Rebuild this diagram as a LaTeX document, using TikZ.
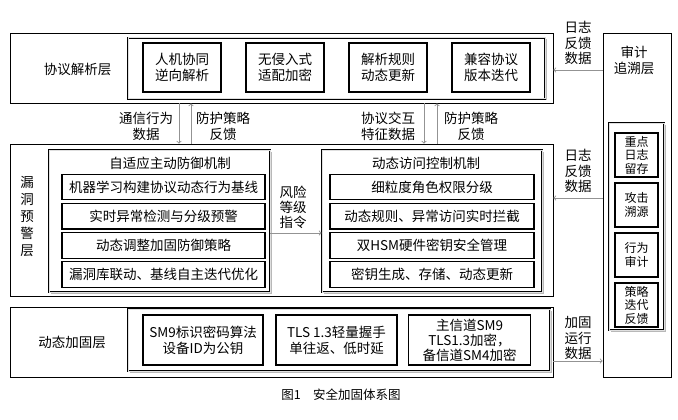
\documentclass[tikz,border=0pt]{standalone}
\usepackage{fontspec}
\setmainfont{Noto Sans CJK SC}
\usetikzlibrary{shapes,arrows,positioning,shadows}

\begin{document}
\begin{tikzpicture}[x=1pt, y=-1pt, auto,
  font=\fontsize{13.5}{16}\selectfont,
  layer/.style={rectangle, draw=black, line width=0.7pt, inner sep=0pt},
  group/.style={rectangle, draw=black, line width=0.8pt, double=gray!25, double distance=1pt, fill=white, inner sep=0pt, drop shadow={shadow xshift=1.5pt, shadow yshift=-1.5pt, fill=gray!70, opacity=0.8}},
  block/.style={rectangle, draw=black, line width=1.2pt, fill=white, inner sep=0pt, align=center, text centered},
  tag/.style={align=center, inner sep=0pt},
  arrow/.style={->, >=to, draw=gray!85, line width=0.9pt}]

  \useasboundingbox (0,0) rectangle (678,420);

  \node (parse) [layer, minimum width=543pt, minimum height=70pt] at (281.5,68) {};
  \node (warn) [layer, minimum width=543pt, minimum height=152pt] at (281.5,220) {};
  \node (fort) [layer, minimum width=543pt, minimum height=70pt] at (281.5,342) {};
  \node (audit) [layer, minimum width=68pt, minimum height=344pt] at (637,205) {};

  \node (parsetxt) [tag] at (77.5,69) {协议解析层};
  \node (warntxt) [tag, font=\fontsize{13.5}{17}\selectfont] at (27,216) {漏\\洞\\预\\警\\层};
  \node (forttxt) [tag] at (72,342) {动态加固层};
  \node (audittxt) [tag] at (634,60) {审计\\追溯层};

  \node (pgroup) [group, minimum width=417pt, minimum height=61pt] at (336.5,68.5) {};
  \node (p1) [block, minimum width=78pt, minimum height=49pt] at (182,67.5) {人机协同\\逆向解析};
  \node (p2) [block, minimum width=78pt, minimum height=49pt, right of=p1, node distance=103pt] {无侵入式\\适配加密};
  \node (p3) [block, minimum width=78pt, minimum height=49pt, right of=p2, node distance=103pt] {解析规则\\动态更新};
  \node (p4) [block, minimum width=78pt, minimum height=49pt, right of=p3, node distance=103pt] {兼容协议\\版本迭代};

  \node (defense) [group, minimum width=221pt, minimum height=142pt] at (159.5,221) {};
  \node (deftitle) [tag] at (170,163) {自适应主动防御机制};
  \node (d1) [block, minimum width=203pt, minimum height=25.5pt] at (163.5,187) {机器学习构建协议动态行为基线};
  \node (d2) [block, minimum width=203pt, minimum height=25.5pt, below of=d1, node distance=29.2pt] {实时异常检测与分级预警};
  \node (d3) [block, minimum width=203pt, minimum height=25.5pt, below of=d2, node distance=29.2pt] {动态调整加固防御策略};
  \node (d4) [block, minimum width=203pt, minimum height=25.5pt, below of=d3, node distance=29.2pt] {漏洞库联动、基线自主迭代优化};

  \node (access) [group, minimum width=220pt, minimum height=142pt] at (432,221) {};
  \node (acctitle) [tag] at (426,163) {动态访问控制机制};
  \node (a1) [block, minimum width=204pt, minimum height=25.5pt] at (432,187) {细粒度角色权限分级};
  \node (a2) [block, minimum width=204pt, minimum height=25.5pt, below of=a1, node distance=29.2pt] {动态规则、异常访问实时拦截};
  \node (a3) [block, minimum width=204pt, minimum height=25.5pt, below of=a2, node distance=29.2pt] {双HSM硬件密钥安全管理};
  \node (a4) [block, minimum width=204pt, minimum height=25.5pt, below of=a3, node distance=29.2pt] {密钥生成、存储、动态更新};

  \node (fgroup) [group, minimum width=422pt, minimum height=62pt] at (339,340) {};
  \node (f1) [block, minimum width=120pt, minimum height=50pt] at (203,340) {SM9标识密码算法\\设备ID为公钥};
  \node (f2) [block, minimum width=121pt, minimum height=50pt, right of=f1, node distance=133.5pt] {TLS 1.3轻量握手\\单往返、低时延};
  \node (f3) [block, minimum width=122pt, minimum height=50pt, right of=f2, node distance=133pt, font=\fontsize{13.5}{15}\selectfont] {主信道SM9\\TLS1.3加密，\\备信道SM4加密};

  \node (agroup) [group, minimum width=55pt, minimum height=207pt] at (636.5,226.5) {};
  \node (r1) [block, minimum width=43pt, minimum height=44pt, font=\fontsize{12}{13.5}\selectfont] at (636.5,155) {重点\\日志\\留存};
  \node (r2) [block, minimum width=43pt, minimum height=44pt, font=\fontsize{12}{14.5}\selectfont, below of=r1, node distance=50pt] {攻击\\溯源};
  \node (r3) [block, minimum width=43pt, minimum height=44pt, font=\fontsize{12}{14.5}\selectfont, below of=r2, node distance=50pt] {行为\\审计};
  \node (r4) [block, minimum width=43pt, minimum height=44pt, font=\fontsize{12}{13.5}\selectfont, below of=r3, node distance=50pt] {策略\\迭代\\反馈};

  \node (fbtop) [tag, font=\fontsize{13.5}{15.5}\selectfont] at (578,43) {日志\\反馈\\数据};
  \node (fbmid) [tag, font=\fontsize{13.5}{15.5}\selectfont] at (578,171) {日志\\反馈\\数据};
  \node (runtxt) [tag, font=\fontsize{13.5}{15.5}\selectfont] at (578,338) {加固\\运行\\数据};
  \node (risktxt) [tag, font=\fontsize{13.5}{15}\selectfont] at (293,207) {风险\\等级\\指令};
  \node (commtxt) [tag] at (146,126) {通信行为\\数据};
  \node (protl) [tag] at (223,126) {防护策略\\反馈};
  \node (feattxt) [tag] at (388,126) {协议交互\\特征数据};
  \node (protr) [tag] at (471,126) {防护策略\\反馈};

  \node (capt) [tag, font=\fontsize{12.5}{14}\selectfont] at (341,395) {图1\quad 安全加固体系图};

  \coordinate (fbin) at ([yshift=-2pt]parse.east);
  \coordinate (fbmidin) at ([yshift=22pt]warn.east);
  \coordinate (runout) at ([yshift=-19pt]fort.east);
  \coordinate (riskout) at ([yshift=-12pt]defense.east);

  \draw [arrow] (audit.west |- fbin) -- (fbin);
  \draw [arrow] (audit.west |- fbmidin) -- (fbmidin);
  \draw [arrow] (runout) -- (audit.west |- runout);
  \draw [arrow] (riskout) -- (access.west |- riskout);
  \draw [arrow] ([xshift=-102.5pt]parse.south) -- ([xshift=-102.5pt]warn.north);
  \draw [arrow] ([xshift=-90.5pt]warn.north) -- ([xshift=-90.5pt]parse.south);
  \draw [arrow] ([xshift=142.5pt]parse.south) -- ([xshift=142.5pt]warn.north);
  \draw [arrow] ([xshift=155.5pt]warn.north) -- ([xshift=155.5pt]parse.south);
\end{tikzpicture}
\end{document}
